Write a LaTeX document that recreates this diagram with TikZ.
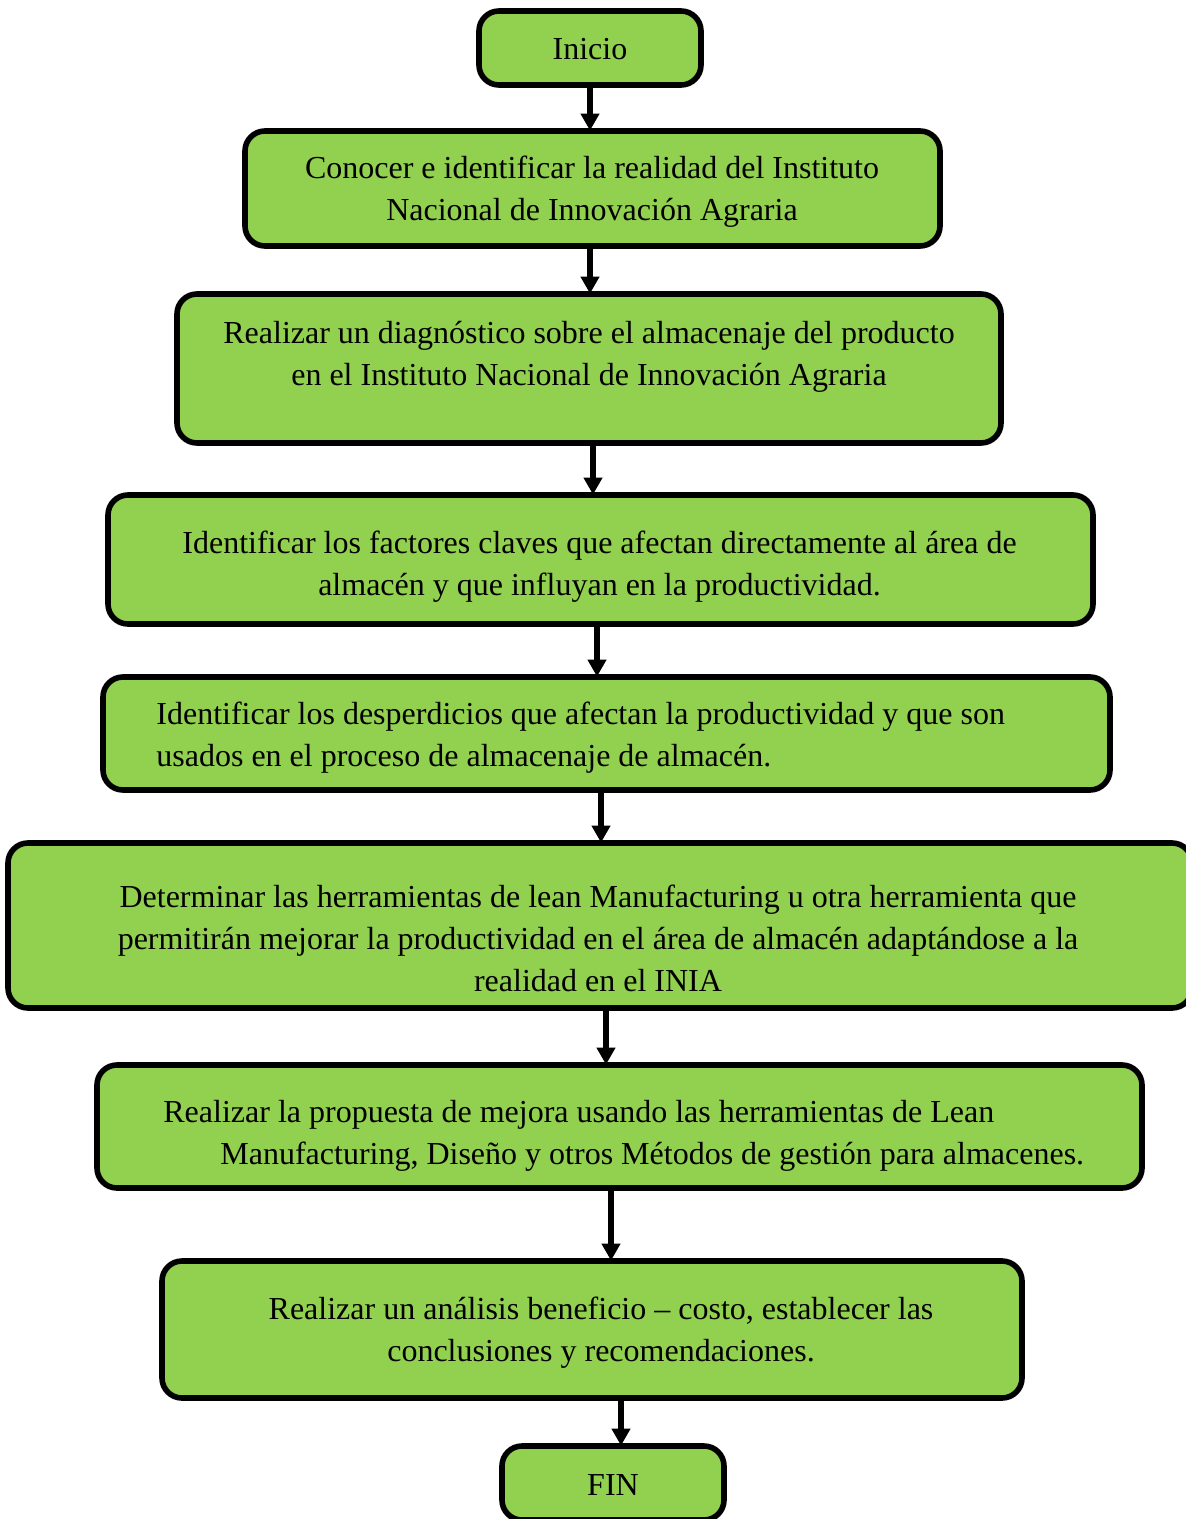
\documentclass[tikz,border=0pt]{standalone}
\usepackage{fontspec}
\setmainfont{Liberation Serif}
\usetikzlibrary{arrows.meta}
\definecolor{boxgreen}{RGB}{146,208,80}
\begin{document}
\begin{tikzpicture}[x=0.5pt,y=-0.5pt,
  box/.style={draw=black, line width=2.8pt, fill=boxgreen, rounded corners=10pt, inner sep=0pt},
  txt/.style={font=\fontsize{16}{21}\selectfont, inner sep=0pt, align=center, yshift=-1pt},
  arr/.style={line width=2.8pt, shorten >=-1.2pt, -{Triangle[length=8.5pt,width=9pt]}}]
\useasboundingbox (0,0) rectangle (1186,1519);
\clip (0,0) rectangle (1186,1519);
% boxes
\node[box, minimum width=111pt,   minimum height=37pt]   (b1) at (590,48) {};
\node[box, minimum width=347.5pt, minimum height=57.5pt] (b2) at (592.5,188.5) {};
\node[box, minimum width=412pt,   minimum height=74.5pt] (b3) at (589,368.5) {};
\node[box, minimum width=492.5pt, minimum height=64.5pt] (b4) at (600.5,559.5) {};
\node[box, minimum width=503.5pt, minimum height=56.5pt] (b5) at (606.5,733.5) {};
\node[box, minimum width=592pt,   minimum height=82.5pt] (b6) at (600,925.5) {};
\node[box, minimum width=522.5pt, minimum height=61.5pt] (b7) at (619.5,1126.5) {};
\node[box, minimum width=430pt,   minimum height=68.5pt] (b8) at (592,1329.5) {};
\node[box, minimum width=111pt,   minimum height=37pt]   (b9) at (613,1483) {};
% texts
\node[txt] (t1) at (590,47) {Inicio};
\node[txt] (t2) at (592,189.5) {Conocer e identificar la realidad del Instituto\\Nacional de Innovación Agraria};
\node[txt] (t3) at (589,355) {Realizar un diagnóstico sobre el almacenaje del producto\\en el Instituto Nacional de Innovación Agraria};
\node[txt] (t4) at (599.5,565) {Identificar los factores claves que afectan directamente al área de\\almacén y que influyan en la productividad.};
\node[txt, align=left, anchor=west] (t5) at (156,736) {Identificar los desperdicios que afectan la productividad y que son\\usados en el proceso de almacenaje de almacén.};
\node[txt] (t6) at (598,936) {Determinar las herramientas de lean Manufacturing u otra herramienta que\\permitirán mejorar la productividad en el área de almacén adaptándose a la\\realidad en el INIA};
\node[txt, align=left, anchor=west] (t7) at (163,1134) {Realizar la propuesta de mejora usando las herramientas de Lean\\\hspace*{28.5pt}Manufacturing, Diseño y otros Métodos de gestión para almacenes.};
\node[txt] (t8) at (601,1331) {Realizar un análisis beneficio -- costo, establecer las\\conclusiones y recomendaciones.};
\node[txt] (t9) at (613,1483) {FIN};
% connector x positions
\coordinate (c12) at (590,0);
\coordinate (c23) at (590,0);
\coordinate (c34) at (593,0);
\coordinate (c45) at (597,0);
\coordinate (c56) at (601,0);
\coordinate (c67) at (606,0);
\coordinate (c78) at (611,0);
\coordinate (c89) at (621,0);
\draw[arr] (b1.south -| c12) -- (b2.north -| c12);
\draw[arr] (b2.south -| c23) -- (b3.north -| c23);
\draw[arr] (b3.south -| c34) -- (b4.north -| c34);
\draw[arr] (b4.south -| c45) -- (b5.north -| c45);
\draw[arr] (b5.south -| c56) -- (b6.north -| c56);
\draw[arr] (b6.south -| c67) -- (b7.north -| c67);
\draw[arr] (b7.south -| c78) -- (b8.north -| c78);
\draw[arr] (b8.south -| c89) -- (b9.north -| c89);
\end{tikzpicture}
\end{document}
